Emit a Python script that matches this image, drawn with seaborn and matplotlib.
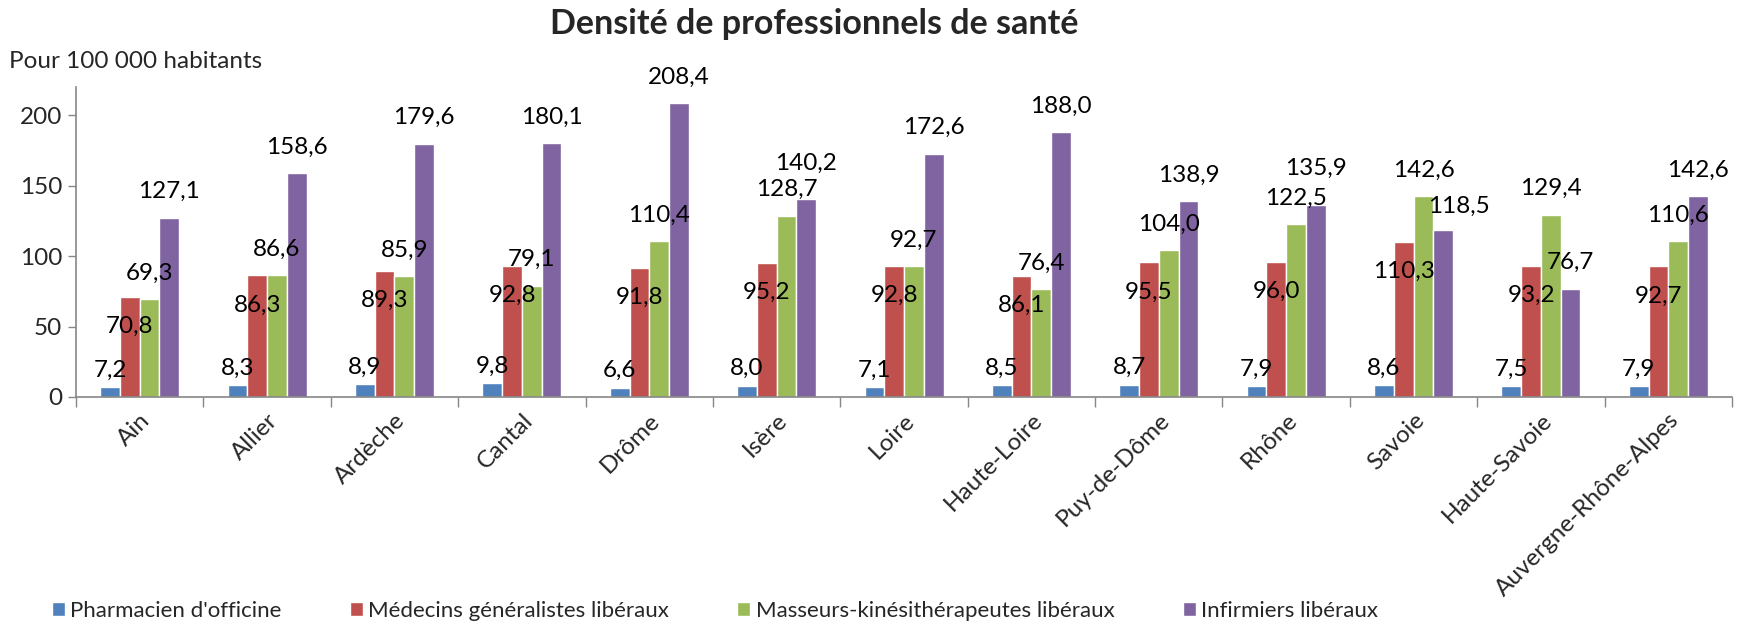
import pandas as pd
import numpy as np
import matplotlib
matplotlib.use('Agg')
import matplotlib.pyplot as plt
import seaborn as sns

# data
departements = ['Ain', 'Allier', 'Ardèche', 'Cantal', 'Drôme', 'Isère', 'Loire',
                'Haute-Loire', 'Puy-de-Dôme', 'Rhône', 'Savoie', 'Haute-Savoie',
                'Auvergne-Rhône-Alpes']
series = ["Pharmacien d'officine", 'Médecins généralistes libéraux',
          'Masseurs-kinésithérapeutes libéraux', 'Infirmiers libéraux']
pharmaciens = [7.2, 8.3, 8.9, 9.8, 6.6, 8.0, 7.1, 8.5, 8.7, 7.9, 8.6, 7.5, 7.9]
medecins = [70.8, 86.3, 89.3, 92.8, 91.8, 95.2, 92.8, 86.1, 95.5, 96.0, 110.3, 93.2, 92.7]
masseurs = [69.3, 86.6, 85.9, 79.1, 110.4, 128.7, 92.7, 76.4, 104.0, 122.5, 142.6, 129.4, 110.6]
infirmiers = [127.1, 158.6, 179.6, 180.1, 208.4, 140.2, 172.6, 188.0, 138.9, 135.9, 118.5, 76.7, 142.6]
colors = ['#4F81BD', '#C0504D', '#9BBB59', '#8064A2']

rows = []
for name, vals in zip(series, [pharmaciens, medecins, masseurs, infirmiers]):
    for d, v in zip(departements, vals):
        rows.append({'dep': d, 'serie': name, 'valeur': v})
df = pd.DataFrame(rows)

sns.set_style('white')
plt.rcParams['font.family'] = ['Lato', 'DejaVu Sans']

fig = plt.figure(figsize=(17.52, 6.23), dpi=100)
ax = fig.add_axes([0.0434, 0.3628, 0.9452, 0.4976])

sns.barplot(data=df, x='dep', y='valeur', hue='serie', order=departements,
            hue_order=series, palette=colors, width=0.62, saturation=1,
            errorbar=None, ax=ax)

# data labels (red ones sit inside the bar, like the original)
offsets = [12, -21, 18.5, 18.5]
# a few labels that Excel pushed aside to avoid collisions
nudges = {(5, 3): (0, 7), (9, 3): (0, 8), (10, 3): (0.12, -2)}
for si, (cont, off) in enumerate(zip(ax.containers, offsets)):
    for ci, p in enumerate(cont.patches):
        v = p.get_height()
        dx, dy = nudges.get((ci, si), (0, 0))
        ax.text(p.get_x() + p.get_width() / 2 + dx, v + off + dy,
                f'{v:.1f}'.replace('.', ','), ha='center', va='center',
                fontsize=17.5, color='black')

ax.set_ylim(0, 220)
ax.set_xlim(-0.5, len(departements) - 0.5)
ax.set_yticks([0, 50, 100, 150, 200])
ax.tick_params(axis='y', labelsize=17.5, length=6, width=1, color='#868686',
               direction='out', left=True, pad=4)
ax.set_xticks(range(len(departements)))
ax.set_xticklabels(departements, rotation=45, ha='right', rotation_mode='anchor',
                   fontsize=17.5)
ax.tick_params(axis='x', length=0, pad=9)
ax.set_xticks(np.arange(-0.5, len(departements)), minor=True)
ax.tick_params(axis='x', which='minor', length=7, width=1, color='#868686',
               direction='out', bottom=True)
ax.set_xlabel('')
ax.set_ylabel('')
for s in ['top', 'right']:
    ax.spines[s].set_visible(False)
for s in ['left', 'bottom']:
    ax.spines[s].set_color('#868686')
    ax.spines[s].set_linewidth(1.2)

handles, labels = ax.get_legend_handles_labels()
ax.legend_.remove()
fig.legend(handles, labels, ncol=4, loc='center left',
           bbox_to_anchor=(0.018, 0.019), frameon=False, fontsize=16,
           handlelength=0.6, handleheight=0.6, handletextpad=0.25,
           columnspacing=3.05)

fig.text(0.465, 0.962, 'Densité de professionnels de santé', ha='center',
         va='center', fontsize=24.5, fontweight='bold')
fig.text(0.005, 0.902, 'Pour 100 000 habitants', ha='left', va='center',
         fontsize=17.5)

fig.savefig('out.png', dpi=100)
